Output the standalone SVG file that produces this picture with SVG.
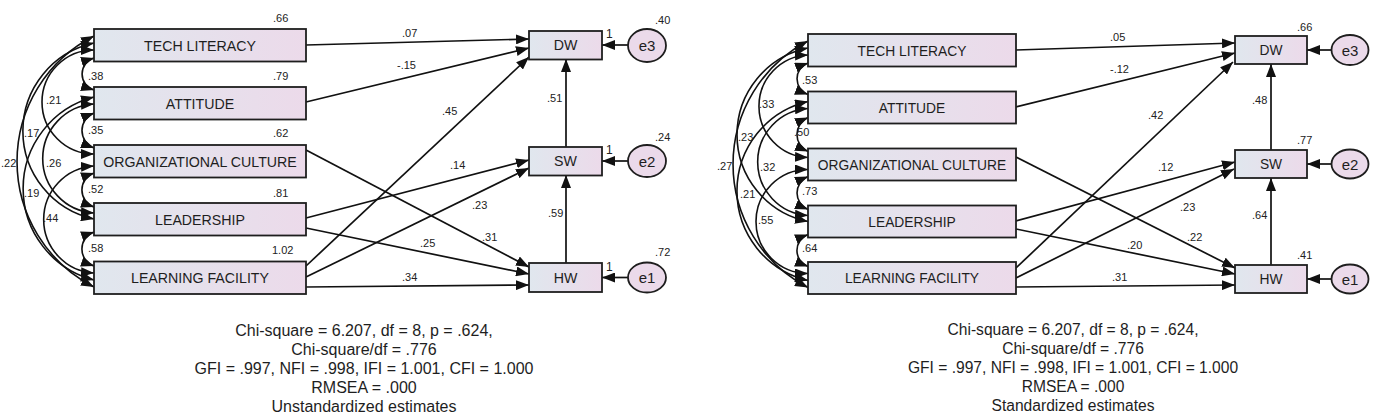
<svg xmlns="http://www.w3.org/2000/svg" width="1390" height="415" viewBox="0 0 1390 415">
<defs>
<linearGradient id="boxg" x1="0" y1="0" x2="1" y2="0">
<stop offset="0" stop-color="#e0e7ee"/>
<stop offset="1" stop-color="#ecdaea"/>
</linearGradient>
<marker id="ah" markerUnits="userSpaceOnUse" markerWidth="13" markerHeight="10" viewBox="0 0 13 10" refX="13" refY="5" orient="auto-start-reverse">
<path d="M0,0 L13,5 L0,10 z" fill="#111"/>
</marker>
<marker id="ch" markerUnits="userSpaceOnUse" markerWidth="13" markerHeight="10" viewBox="0 0 13 10" refX="13" refY="5" orient="auto-start-reverse">
<path d="M0,0 L13,5 L0,10 z" fill="#111"/>
</marker>
</defs>
<style>
.box{fill:url(#boxg);stroke:#1e1e1e;stroke-width:1.8}
.ell{fill:#ebdaea;stroke:#1e1e1e;stroke-width:1.8}
.t{font-family:"Liberation Sans",Arial,sans-serif;fill:#1e1e1e;text-anchor:middle}
.tl{font-size:14.2px}
.tr{font-size:13.8px}
.s{font-family:"Liberation Sans",Arial,sans-serif;font-size:11px;fill:#222}
.ln{fill:none;stroke:#111;stroke-width:1.7;marker-end:url(#ah)}
.cv{fill:none;stroke:#111;stroke-width:1.6;marker-start:url(#ch);marker-end:url(#ch)}
.fit{font-family:"Liberation Sans",Arial,sans-serif;fill:#1e1e1e;text-anchor:middle}
</style>
<rect width="1390" height="415" fill="#fff"/>

<!-- LEFT DIAGRAM: Unstandardized -->
<g id="L-connectors">
<path class="cv" d="M94,58 A16.7,16.7 0 0 0 94,90"/>
<path class="cv" d="M94,113 A18.75,18.75 0 0 0 94,148"/>
<path class="cv" d="M94,173 A18,18 0 0 0 94,207"/>
<path class="cv" d="M94,232 A18,18 0 0 0 94,266"/>
<path class="cv" d="M94,50 A52,52 0 0 0 94,154"/>
<path class="cv" d="M94,104 A54.6,54.6 0 0 0 94,213"/>
<path class="cv" d="M94,166 A53.6,53.6 0 0 0 94,273"/>
<path class="cv" d="M94,43 A90,90 0 0 0 94,219"/>
<path class="cv" d="M94,97 A94.5,94.5 0 0 0 94,280"/>
<path class="cv" d="M94,36 A140.8,140.8 0 0 0 94,287"/>
<path class="ln" d="M306,45 L529,39"/>
<path class="ln" d="M306,102 L529,48"/>
<path class="ln" d="M306,266 L529,57"/>
<path class="ln" d="M306,218 L529,160"/>
<path class="ln" d="M306,277 L529,168"/>
<path class="ln" d="M306,150 L529,267"/>
<path class="ln" d="M306,228 L529,274"/>
<path class="ln" d="M306,287 L529,285"/>
<path class="ln" d="M566,147 L566,59"/>
<path class="ln" d="M566,263 L566,175"/>
<path class="ln" d="M628,45 L602,45"/>
<path class="ln" d="M628,161 L602,161"/>
<path class="ln" d="M628,277.5 L602,277.5"/>
<g class="s">
<text x="88" y="80">.38</text>
<text x="88" y="134">.35</text>
<text x="88" y="193">.52</text>
<text x="88" y="252">.58</text>
<text x="46" y="104">.21</text>
<text x="46" y="167">.26</text>
<text x="43" y="222">.44</text>
<text x="24" y="137">.17</text>
<text x="24" y="197">.19</text>
<text x="1" y="167">.22</text>
<text x="402" y="37">.07</text>
<text x="397" y="69">-.15</text>
<text x="442" y="115">.45</text>
<text x="547" y="102">.51</text>
<text x="450" y="169">.14</text>
<text x="472" y="209">.23</text>
<text x="548" y="217">.59</text>
<text x="482" y="241">.31</text>
<text x="420" y="247">.25</text>
<text x="402" y="281">.34</text>
<text x="606" y="38" font-size="12">1</text>
<text x="606" y="154" font-size="12">1</text>
<text x="606" y="270.5" font-size="12">1</text>
</g>
</g>
<g id="L-tech"><rect class="box" x="94" y="29" width="212" height="32.5"/><text class="t tl" x="200" y="50.5">TECH LITERACY</text><text class="s" x="273" y="22">.66</text></g>
<g id="L-att"><rect class="box" x="94" y="87" width="212" height="32.5"/><text class="t tl" x="200" y="108.5">ATTITUDE</text><text class="s" x="273" y="80">.79</text></g>
<g id="L-org"><rect class="box" x="94" y="145" width="212" height="32.5"/><text class="t tl" x="200" y="166.5">ORGANIZATIONAL CULTURE</text><text class="s" x="273" y="137">.62</text></g>
<g id="L-lead"><rect class="box" x="94" y="203" width="212" height="32.5"/><text class="t tl" x="200" y="224.5">LEADERSHIP</text><text class="s" x="273" y="197">.81</text></g>
<g id="L-learn"><rect class="box" x="94" y="261.5" width="212" height="32.5"/><text class="t tl" x="200" y="283">LEARNING FACILITY</text><text class="s" x="272" y="254">1.02</text></g>
<g id="L-dw"><rect class="box" x="529" y="31" width="73" height="28.5"/><text class="t tl" x="565.5" y="50">DW</text></g>
<g id="L-sw"><rect class="box" x="529" y="147" width="73" height="28.5"/><text class="t tl" x="565.5" y="166">SW</text></g>
<g id="L-hw"><rect class="box" x="529" y="263" width="73" height="29"/><text class="t tl" x="565.5" y="282.5">HW</text></g>
<g id="L-e3"><ellipse class="ell" cx="647" cy="45.5" rx="19" ry="16.5"/><text class="t" font-size="15" x="647" y="51">e3</text><text class="s" x="655" y="24">.40</text></g>
<g id="L-e2"><ellipse class="ell" cx="647" cy="161" rx="19" ry="16"/><text class="t" font-size="15" x="647" y="166.5">e2</text><text class="s" x="655" y="141">.24</text></g>
<g id="L-e1"><ellipse class="ell" cx="647" cy="277.5" rx="19" ry="15"/><text class="t" font-size="15" x="647" y="283">e1</text><text class="s" x="655" y="256">.72</text></g>
<g id="L-fit" class="fit" font-size="16">
<text x="364" y="336">Chi-square = 6.207, df = 8, p = .624,</text>
<text x="364" y="355">Chi-square/df = .776</text>
<text x="364" y="374">GFI = .997, NFI = .998, IFI = 1.001, CFI = 1.000</text>
<text x="364" y="393">RMSEA = .000</text>
<text x="364" y="412">Unstandardized estimates</text>
</g>

<!-- RIGHT DIAGRAM: Standardized -->
<g id="R-connectors">
<path class="cv" d="M808,63 A16.8,16.8 0 0 0 808,94.5"/>
<path class="cv" d="M808,117.5 A18.6,18.6 0 0 0 808,151.5"/>
<path class="cv" d="M808,176.5 A17.9,17.9 0 0 0 808,209.5"/>
<path class="cv" d="M808,234.5 A17.1,17.1 0 0 0 808,266.5"/>
<path class="cv" d="M808,55 A51.3,51.3 0 0 0 808,157.5"/>
<path class="cv" d="M808,108.5 A53.6,53.6 0 0 0 808,215.5"/>
<path class="cv" d="M808,169.5 A52,52 0 0 0 808,273.5"/>
<path class="cv" d="M808,48 A88.5,88.5 0 0 0 808,221.5"/>
<path class="cv" d="M808,101.5 A91.9,91.9 0 0 0 808,280.5"/>
<path class="cv" d="M808,41 A138.8,138.8 0 0 0 808,287.5"/>
<path class="ln" d="M1016,50 L1235,43"/>
<path class="ln" d="M1016,107 L1235,53"/>
<path class="ln" d="M1016,268 L1233,62"/>
<path class="ln" d="M1016,221 L1235,162"/>
<path class="ln" d="M1016,278 L1234,169"/>
<path class="ln" d="M1016,157 L1235,268"/>
<path class="ln" d="M1016,229 L1235,274"/>
<path class="ln" d="M1016,287 L1235,285"/>
<path class="ln" d="M1271,150 L1271,64"/>
<path class="ln" d="M1271,265 L1271,178"/>
<path class="ln" d="M1332,50 L1307,50"/>
<path class="ln" d="M1332,164 L1307,164"/>
<path class="ln" d="M1332,279 L1307,279"/>
<g class="s">
<text x="802" y="84">.53</text>
<text x="794" y="136">.50</text>
<text x="802" y="195">.73</text>
<text x="802" y="252">.64</text>
<text x="759" y="108">.33</text>
<text x="760" y="171">.32</text>
<text x="758" y="224">.55</text>
<text x="738" y="141">.23</text>
<text x="740" y="198">.21</text>
<text x="717" y="170">.27</text>
<text x="1110" y="41">.05</text>
<text x="1110" y="73">-.12</text>
<text x="1148" y="119">.42</text>
<text x="1252" y="104">.48</text>
<text x="1158" y="171">.12</text>
<text x="1180" y="211">.23</text>
<text x="1252" y="219">.64</text>
<text x="1187" y="241">.22</text>
<text x="1127" y="249">.20</text>
<text x="1112" y="281">.31</text>
</g>
</g>
<g id="R-tech"><rect class="box" x="808" y="34" width="208" height="32.5"/><text class="t tr" x="912" y="55.5">TECH LITERACY</text></g>
<g id="R-att"><rect class="box" x="808" y="91.5" width="208" height="32"/><text class="t tr" x="912" y="112.5">ATTITUDE</text></g>
<g id="R-org"><rect class="box" x="808" y="148.5" width="208" height="32"/><text class="t tr" x="912" y="169.5">ORGANIZATIONAL CULTURE</text></g>
<g id="R-lead"><rect class="box" x="808" y="205.5" width="208" height="32"/><text class="t tr" x="912" y="226.5">LEADERSHIP</text></g>
<g id="R-learn"><rect class="box" x="808" y="262" width="208" height="32"/><text class="t tr" x="912" y="283">LEARNING FACILITY</text></g>
<g id="R-dw"><rect class="box" x="1235" y="36" width="72" height="28"/><text class="t tr" x="1271" y="55">DW</text><text class="s" x="1297" y="31">.66</text></g>
<g id="R-sw"><rect class="box" x="1235" y="150" width="72" height="28"/><text class="t tr" x="1271" y="169">SW</text><text class="s" x="1297" y="144">.77</text></g>
<g id="R-hw"><rect class="box" x="1235" y="265" width="72" height="28"/><text class="t tr" x="1271" y="284">HW</text><text class="s" x="1297" y="259">.41</text></g>
<g id="R-e3"><ellipse class="ell" cx="1350" cy="50" rx="18.5" ry="15"/><text class="t" font-size="15" x="1350" y="55.5">e3</text></g>
<g id="R-e2"><ellipse class="ell" cx="1350" cy="164" rx="18.5" ry="14.5"/><text class="t" font-size="15" x="1350" y="169.5">e2</text></g>
<g id="R-e1"><ellipse class="ell" cx="1350" cy="279" rx="18.5" ry="14.5"/><text class="t" font-size="15" x="1350" y="284.5">e1</text></g>
<g id="R-fit" class="fit" font-size="15.6">
<text x="1073" y="335">Chi-square = 6.207, df = 8, p = .624,</text>
<text x="1073" y="354">Chi-square/df = .776</text>
<text x="1073" y="373">GFI = .997, NFI = .998, IFI = 1.001, CFI = 1.000</text>
<text x="1073" y="392">RMSEA = .000</text>
<text x="1073" y="411">Standardized estimates</text>
</g>
</svg>
